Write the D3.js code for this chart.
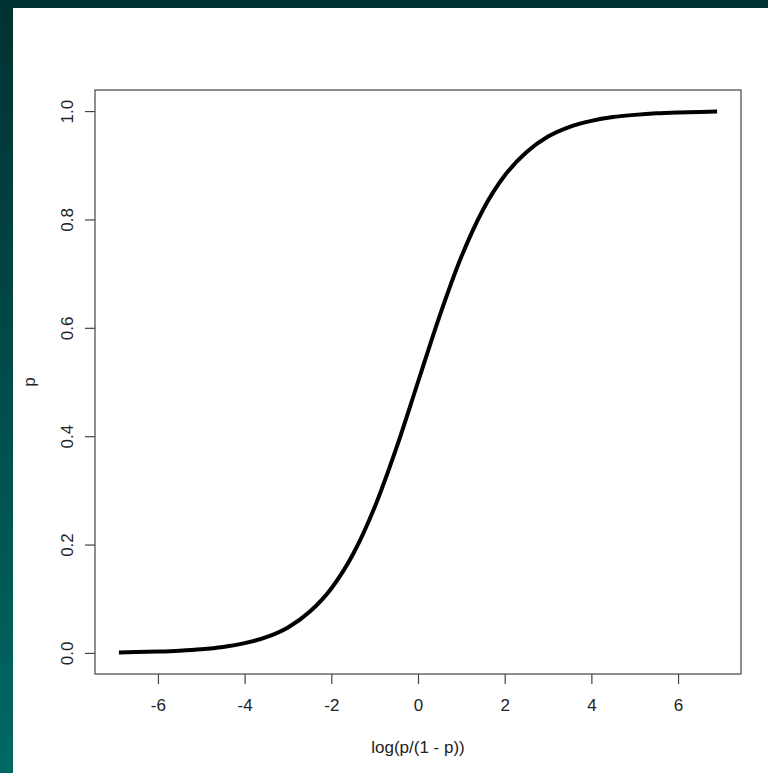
<!DOCTYPE html>
<html>
<head>
<meta charset="utf-8">
<script src="https://cdn.jsdelivr.net/npm/d3@7"></script>
<style>
  html, body { margin: 0; padding: 0; background: #fff; }
  svg { display: block; }
  text { font-family: "Liberation Sans", Arial, sans-serif; fill: #222; }
</style>
</head>
<body>
<svg id="chart" width="768" height="773"></svg>
<script>
// Data
const xValues = [-6.9, -6.5, -6, -5.5, -5, -4.5, -4, -3.5, -3, -2.5, -2, -1.5, -1, -0.5, 0, 0.5, 1, 1.5, 2, 2.5, 3, 3.5, 4, 4.5, 5, 5.5, 6, 6.5, 6.9];
const pValues = [0.001, 0.0015, 0.0025, 0.0041, 0.0067, 0.011, 0.018, 0.029, 0.047, 0.076, 0.119, 0.182, 0.269, 0.378, 0.5, 0.622, 0.731, 0.818, 0.881, 0.924, 0.953, 0.971, 0.982, 0.989, 0.993, 0.9959, 0.9975, 0.9985, 0.999];
const xTicks = [-6, -4, -2, 0, 2, 4, 6];
const yTicks = [0, 0.2, 0.4, 0.6, 0.8, 1.0];
const xLabel = "log(p/(1 - p))";
const yLabel = "p";

(function () {
const svg = d3.select("#chart");

// Background: dark teal frame with gradient on the left strip
const defs = svg.append("defs");
const grad = defs.append("linearGradient").attr("id", "bg").attr("x1", 0).attr("y1", 0).attr("x2", 0).attr("y2", 1);
grad.append("stop").attr("offset", "0%").attr("stop-color", "#003131");
grad.append("stop").attr("offset", "100%").attr("stop-color", "#006864");
svg.append("rect").attr("x", 0).attr("y", 0).attr("width", 768).attr("height", 773).attr("fill", "url(#bg)");
svg.append("rect").attr("x", 0).attr("y", 0).attr("width", 768).attr("height", 8).attr("fill", "#003131");
svg.append("rect").attr("x", 13).attr("y", 8).attr("width", 755).attr("height", 765).attr("fill", "#ffffff");

const pL = 95, pR = 741, pT = 90, pB = 674;
const x = d3.scaleLinear().domain([-7.452, 7.452]).range([pL, pR]);
const y = d3.scaleLinear().domain([-0.0389, 1.0389]).range([pB, pT]);

// Box
svg.append("rect").attr("x", pL).attr("y", pT).attr("width", pR - pL).attr("height", pB - pT)
  .attr("fill", "none").attr("stroke", "#444").attr("stroke-width", 1.2);

// X axis
const xAxis = d3.axisBottom(x).tickValues(xTicks).tickSize(10).tickPadding(15).tickFormat(d3.format("d"));
const gx = svg.append("g").attr("transform", `translate(0,${pB})`).call(xAxis);
gx.select(".domain").remove();
gx.selectAll(".tick line").attr("stroke", "#444").attr("stroke-width", 1.2);
gx.selectAll(".tick text").attr("font-size", 17).attr("fill", "#222")
  .text(d => d < 0 ? "-" + Math.abs(d) : String(d));

// Y axis
const yAxis = d3.axisLeft(y).tickValues(yTicks).tickSize(10).tickFormat(d3.format(".1f"));
const gy = svg.append("g").attr("transform", `translate(${pL},0)`).call(yAxis);
gy.select(".domain").remove();
gy.selectAll(".tick line").attr("stroke", "#444").attr("stroke-width", 1.2);
gy.selectAll(".tick text").remove();
gy.selectAll(".tick").append("text")
  .attr("transform", "translate(-28,0) rotate(-90)")
  .attr("text-anchor", "middle").attr("dy", "0.35em")
  .attr("font-size", 17).attr("fill", "#222")
  .text(d => d3.format(".1f")(d));

// Axis titles
svg.append("text").attr("x", (pL + pR) / 2).attr("y", 753)
  .attr("text-anchor", "middle").attr("font-size", 17).text(xLabel);
svg.append("text").attr("transform", `translate(35,${(pT + pB) / 2}) rotate(-90)`)
  .attr("text-anchor", "middle").attr("font-size", 17).text(yLabel);

// Curve
const pts = xValues.map((v, i) => [v, pValues[i]]);
const line = d3.line().x(d => x(d[0])).y(d => y(d[1])).curve(d3.curveMonotoneX);
svg.append("path").datum(pts).attr("d", line)
  .attr("fill", "none").attr("stroke", "#000").attr("stroke-width", 4).attr("stroke-linecap", "butt");
})();
</script>
</body>
</html>
